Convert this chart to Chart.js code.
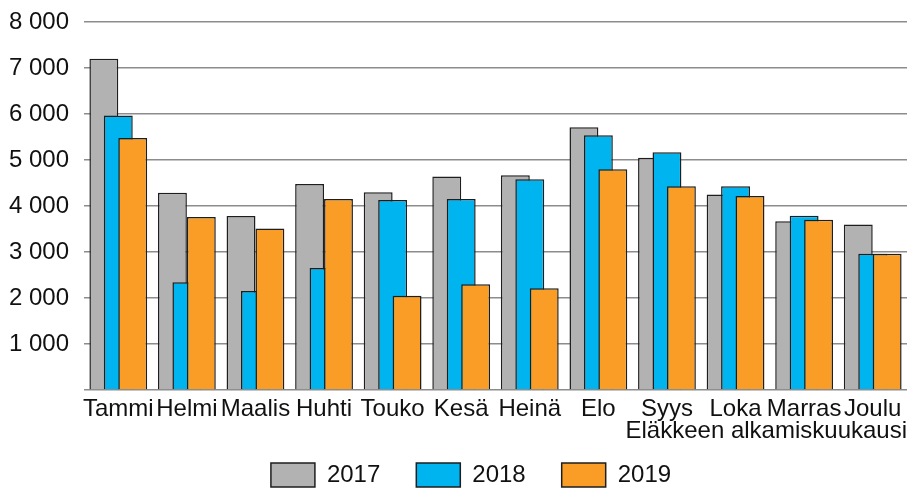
<!DOCTYPE html>
<html lang="fi">
<head>
<meta charset="utf-8">
<title>Eläkkeen alkamiskuukausi</title>
<script src="https://cdn.jsdelivr.net/npm/chart.js@4.4.1/dist/chart.umd.min.js"></script>
<style>
  html, body { margin: 0; padding: 0; background: #fff; }
  #wrap { width: 920px; height: 488px; }
</style>
</head>
<body>
<div id="wrap"><canvas id="chart" width="920" height="488"></canvas></div>
<script>
// ── Data ──
const months = ['Tammi','Helmi','Maalis','Huhti','Touko','Kesä','Heinä','Elo','Syys','Loka','Marras','Joulu'];
const years  = ['2017','2018','2019'];
const v2017  = [7200, 4290, 3780, 4480, 4300, 4640, 4670, 5710, 5050, 4250, 3670, 3600];
const v2018  = [5970, 2340, 2150, 2650, 4130, 4150, 4580, 5540, 5170, 4430, 3790, 2960];
const v2019  = [5480, 3760, 3510, 4150, 2050, 2300, 2210, 4800, 4430, 4220, 3700, 2960];
const yTicks = [0, 1000, 2000, 3000, 4000, 5000, 6000, 7000, 8000];
const xTitle = 'Eläkkeen alkamiskuukausi';

const colors = ['#b2b2b2', '#00b4ef', '#f99d27'];
const FONT = "'Liberation Sans', Arial, sans-serif";

function fmt(v) {
  return String(v).replace(/\B(?=(\d{3})+(?!\d))/g, ' ');
}

// Piirretään sarjat järjestyksessä 2017 -> 2019, jotta 2019 jää päällimmäiseksi
const drawOrder = {
  id: 'drawOrder',
  beforeDatasetsDraw(chart) {
    chart.getSortedVisibleDatasetMetas().forEach(m => chart._drawDataset(m));
    return false;
  }
};

// Selite hieman oikealle, kuten alkuperäisessä kuvassa
const legendShift = {
  id: 'legendShift',
  afterLayout(chart) {
    if (chart.legend) chart.legend.left += 35;
  }
};

const series = [v2017, v2018, v2019];

new Chart(document.getElementById('chart'), {
  type: 'bar',
  data: {
    labels: months,
    datasets: series.map((d, i) => ({
      label: years[i],
      data: d,
      backgroundColor: colors[i],
      borderColor: '#1e1e1e',
      borderWidth: 1.5,
      categoryPercentage: 0.632,
      barPercentage: 2.0
    }))
  },
  options: {
    responsive: false,
    devicePixelRatio: 1,
    animation: false,
    layout: { padding: { top: 22, right: 13, left: 0, bottom: 0 } },
    plugins: {
      legend: {
        position: 'bottom',
        maxHeight: 61,
        labels: {
          boxWidth: 44, boxHeight: 24, padding: 36,
          color: '#111',
          font: { family: FONT, size: 24 }
        }
      },
      tooltip: { enabled: false }
    },
    scales: {
      x: {
        afterFit: s => { s.height = 37; },
        grid: { display: false, drawTicks: false },
        border: { display: false },
        ticks: {
          color: '#111', padding: 5,
          maxRotation: 0, autoSkip: false,
          font: { family: FONT, size: 24 }
        },
        title: {
          display: true, text: xTitle, align: 'end',
          color: '#111', padding: { top: 0, bottom: -19 },
          font: { family: FONT, size: 24 }
        }
      },
      y: {
        min: 0, max: 8000,
        afterFit: s => { s.width = 84; s.paddingTop = 0; s.paddingBottom = 0; },
        afterBuildTicks: s => { s.ticks = yTicks.map(v => ({ value: v })); },
        grid: { color: '#8c8c8c', lineWidth: 1.5, drawTicks: false },
        border: { display: false },
        ticks: {
          color: '#111', padding: 15,
          font: { family: FONT, size: 24 },
          callback: v => v === 0 ? '' : fmt(v)
        }
      }
    }
  },
  plugins: [drawOrder, legendShift]
});
</script>
</body>
</html>
